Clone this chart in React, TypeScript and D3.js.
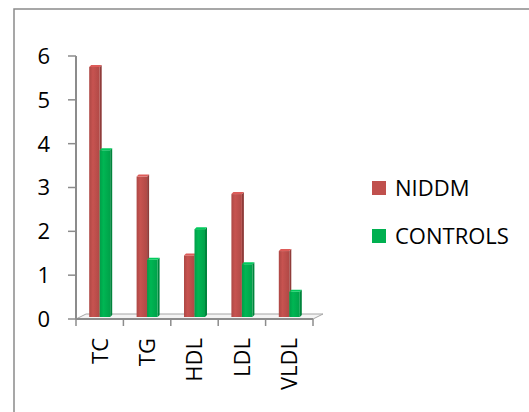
import React from 'react'
import * as d3 from 'd3'

const categories = ['TC', 'TG', 'HDL', 'LDL', 'VLDL']
const niddm = [5.75, 3.25, 1.45, 2.85, 1.55]
const controls = [3.85, 1.35, 2.05, 1.25, 0.62]
const yTicks = [0, 1, 2, 3, 4, 5, 6]
const seriesNames = ['NIDDM', 'CONTROLS']
const seriesColors = ['#c0504d', '#00b050']

const W = 529
const H = 412
const FONT = '"Open Sans", sans-serif'

export default function App() {
  const x = d3.scaleBand<string>().domain(categories).range([76, 313])
  const bw = x.bandwidth()
  const inner = d3.scaleBand<string>().domain(seriesNames).range([bw / 2 - 10.5, bw / 2 + 10.5])
  const y = d3.scaleLinear().domain([0, 6]).range([319, 56])
  const base = y(0) - 2
  const series = [niddm, controls]

  const [x0, x1] = x.range()
  const floor = [[x0, y(0)], [x1, y(0)], [x1 + 10, y(0) - 5], [x0 + 10, y(0) - 5]]

  return (
    <svg width={W} height={H} style={{ position: 'absolute', left: 0, top: 0, fontFamily: FONT }}>
      <defs>
        {seriesColors.map((c, i) => (
          <linearGradient key={i} id={`g${i}`} x1="0" x2="1" y1="0" y2="0">
            <stop offset="0" stopColor={d3.color(c)!.darker(0.3).toString()} />
            <stop offset="0.35" stopColor={d3.color(c)!.brighter(0.1).toString()} />
            <stop offset="1" stopColor={d3.color(c)!.darker(0.25).toString()} />
          </linearGradient>
        ))}
      </defs>
      <rect x={14} y={9} width={W} height={H} fill="#fff" stroke="#8a8a8a" strokeWidth={1.5} />

      {/* floor */}
      <polygon points={floor.map(p => p.join(',')).join(' ')} fill="#f4f4f4" stroke="#a6a6a6" strokeWidth={1} />

      {/* y axis */}
      <line x1={x0} x2={x0} y1={y(6)} y2={y(0)} stroke="#8c8c8c" strokeWidth={2} />
      {yTicks.map(t => (
        <g key={t}>
          <line x1={x0 - 8} x2={x0} y1={y(t)} y2={y(t)} stroke="#8c8c8c" strokeWidth={1.5} />
          <text x={50} y={y(t)} dy="0.36em" textAnchor="end" fontSize={22} fill="#000">{t}</text>
        </g>
      ))}

      {/* x axis */}
      <line x1={x0} x2={x1} y1={y(0)} y2={y(0)} stroke="#8c8c8c" strokeWidth={2} />
      {[...categories.map(c => x(c)!), x1].map((px, i) => (
        <line key={i} x1={px} x2={px} y1={y(0)} y2={y(0) + 7} stroke="#8c8c8c" strokeWidth={1.5} />
      ))}

      {/* bars */}
      {categories.map((c, ci) => (
        <g key={c}>
          {series.map((vals, si) => {
            const bx = x(c)! + inner(seriesNames[si])!
            const w = inner.bandwidth()
            const top = y(vals[ci])
            const col = seriesColors[si]
            return (
              <g key={si}>
                <polygon
                  points={`${bx + w},${top} ${bx + w + 2},${top - 2} ${bx + w + 2},${base - 2} ${bx + w},${base}`}
                  fill={d3.color(col)!.darker(0.8).toString()}
                />
                <rect x={bx} y={top} width={w} height={base - top} fill={`url(#g${si})`} />
                <polygon
                  points={`${bx},${top} ${bx + w},${top} ${bx + w + 2},${top - 2} ${bx + 2},${top - 2}`}
                  fill={d3.color(col)!.brighter(0.4).toString()}
                />
              </g>
            )
          })}
        </g>
      ))}

      {/* category labels */}
      {categories.map(c => {
        const cx = x(c)! + bw / 2
        return (
          <text key={c} transform={`translate(${cx},338) rotate(-90)`} dy="0.36em" textAnchor="end" fontSize={22} fill="#000">
            {c}
          </text>
        )
      })}

      {/* legend */}
      {seriesNames.map((s, i) => (
        <g key={s} transform={`translate(372,${181 + i * 48})`}>
          <rect width={14} height={14} fill={seriesColors[i]} />
          <text x={23} y={7} dy="0.36em" fontSize={22} fill="#000">{s}</text>
        </g>
      ))}
    </svg>
  )
}
